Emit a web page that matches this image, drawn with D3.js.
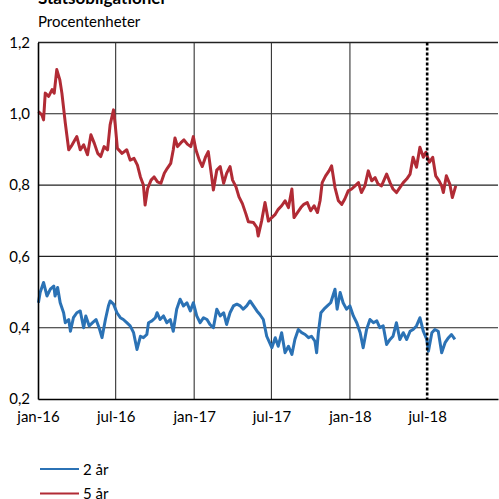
<!DOCTYPE html>
<html><head><meta charset="utf-8">
<script src="https://cdn.jsdelivr.net/npm/d3@7"></script>
<style>body{margin:0;background:#fff}svg{display:block}text{font-family:Lato,"Open Sans",sans-serif;fill:#000}</style>
</head><body><svg id="c" width="499" height="499"></svg>
<script>
const title = "Statsobligationer";
const unit = "Procentenheter";
const seriesNames = ["2 år", "5 år"];
const seriesColors = ["#2b72b5", "#b12b35"];
const yTicks = [0.2, 0.4, 0.6, 0.8, 1.0, 1.2];
const xTickDates = ["2016-01-01","2016-07-01","2017-01-01","2017-07-01","2018-01-01","2018-07-01"];
const xTickLabels = ["jan-16","jul-16","jan-17","jul-17","jan-18","jul-18"];
const markerDate = "2018-07-01";
const startDate = "2016-01-01";
const endDate = "2018-12-14";

// day offsets from 2016-01-01 and values
const days2 = [1,5,13,21,29,37,40,46,52,60,64,72,76,83,91,99,107,112,120,128,136,144,150,158,165,169,177,185,193,200,208,216,224,232,240,247,255,259,267,275,279,286,294,302,310,317,325,333,341,349,357,364,372,380,388,396,403,411,419,427,435,442,450,458,466,474,481,489,497,505,513,520,528,536,548,556,563,571,579,587,595,602,610,618,626,634,641,649,653,657,663,670,678,686,696,701,708,715,723,731,739,747,755,762,770,778,786,794,801,809,817,825,832,840,848,856,864,872,879,887,895,903,911,915,923,930,938,946,954,962,969,977];
const vals2 = [0.470,0.499,0.527,0.489,0.508,0.517,0.489,0.513,0.470,0.442,0.414,0.423,0.390,0.428,0.442,0.447,0.400,0.433,0.405,0.414,0.423,0.397,0.372,0.423,0.461,0.475,0.466,0.442,0.428,0.423,0.414,0.405,0.386,0.339,0.376,0.372,0.381,0.414,0.419,0.428,0.442,0.423,0.433,0.414,0.423,0.390,0.452,0.480,0.461,0.470,0.447,0.470,0.433,0.414,0.428,0.423,0.409,0.400,0.452,0.433,0.442,0.409,0.442,0.461,0.466,0.461,0.452,0.461,0.475,0.461,0.447,0.437,0.423,0.376,0.344,0.372,0.348,0.386,0.330,0.348,0.325,0.367,0.395,0.386,0.381,0.372,0.376,0.362,0.330,0.386,0.442,0.452,0.461,0.470,0.508,0.452,0.499,0.470,0.452,0.461,0.433,0.414,0.386,0.344,0.395,0.423,0.414,0.419,0.400,0.405,0.353,0.367,0.376,0.414,0.367,0.386,0.367,0.390,0.395,0.405,0.428,0.390,0.367,0.334,0.386,0.395,0.390,0.330,0.358,0.372,0.381,0.367];

const days5 = [1,9,13,17,25,33,38,44,51,56,64,72,80,91,99,107,116,124,132,140,147,155,163,169,177,181,186,197,208,216,225,233,240,247,251,257,265,272,280,288,296,303,311,317,321,327,335,342,350,358,364,370,378,385,393,399,407,411,419,427,435,442,450,456,464,471,479,487,493,505,513,516,524,532,540,548,556,563,571,579,587,595,600,608,616,623,631,639,647,655,661,666,674,682,688,696,704,712,719,727,735,743,751,758,766,774,782,790,797,805,817,825,832,840,848,856,864,872,879,887,895,903,909,917,925,932,940,946,950,957,965,971,979];
const vals5 = [1.006,0.997,0.983,1.058,1.049,1.068,1.058,1.124,1.096,1.058,0.974,0.899,0.913,0.936,0.899,0.913,0.885,0.941,0.917,0.889,0.880,0.908,0.899,0.969,1.011,0.969,0.903,0.889,0.899,0.870,0.875,0.856,0.823,0.800,0.744,0.791,0.814,0.823,0.809,0.805,0.833,0.847,0.861,0.899,0.932,0.908,0.919,0.927,0.915,0.908,0.936,0.899,0.870,0.852,0.880,0.894,0.823,0.786,0.842,0.852,0.805,0.833,0.852,0.814,0.795,0.767,0.748,0.720,0.697,0.695,0.681,0.657,0.699,0.751,0.699,0.709,0.718,0.732,0.742,0.756,0.737,0.789,0.709,0.723,0.737,0.746,0.751,0.728,0.742,0.723,0.756,0.807,0.826,0.840,0.854,0.793,0.756,0.746,0.761,0.784,0.789,0.798,0.807,0.779,0.798,0.840,0.812,0.821,0.803,0.798,0.831,0.807,0.789,0.779,0.793,0.807,0.817,0.831,0.878,0.850,0.906,0.878,0.892,0.864,0.878,0.826,0.812,0.798,0.779,0.826,0.803,0.765,0.798];

const svg = d3.select("#c");
const parse = d3.timeParse("%Y-%m-%d");
const t0 = parse(startDate);
const m = {left: 38, right: 498, top: 42.5, bottom: 399};

const x = d3.scaleTime().domain([t0, parse(endDate)]).range([m.left, m.right]);
const y = d3.scaleLinear().domain([0.2, 1.2]).range([m.bottom, m.top]);
const fmt = d => d3.format(".1f")(d).replace(".", ",");

// titles
svg.append("text").attr("x", 38).attr("y", 4).attr("font-size", 17).attr("font-weight", "bold").text(title);
svg.append("text").attr("x", 38).attr("y", 27).attr("font-size", 15).text(unit);

// horizontal gridlines
const g = svg.append("g");
g.selectAll("line.h").data(yTicks.slice(1, -1)).join("line")
  .attr("x1", m.left).attr("x2", m.right).attr("y1", d => y(d)).attr("y2", d => y(d))
  .attr("stroke", "#222").attr("stroke-width", 1.1);
// top border
g.append("line").attr("x1", m.left).attr("x2", m.right).attr("y1", y(1.2)).attr("y2", y(1.2))
  .attr("stroke", "#222").attr("stroke-width", 1.3);

// vertical gridlines
const vDates = xTickDates.map(parse).filter(d => +d !== +t0 && +d !== +parse(markerDate));
g.selectAll("line.v").data(vDates).join("line")
  .attr("x1", d => x(d)).attr("x2", d => x(d)).attr("y1", m.top).attr("y2", m.bottom)
  .attr("stroke", "#333").attr("stroke-width", 1.1);

// lines
const line = d3.line().x(d => x(d[0])).y(d => y(d[1]));
const mk = (days, vals) => days.map((d, i) => [d3.timeDay.offset(t0, d), vals[i]]);
const data2 = mk(days2, vals2), data5 = mk(days5, vals5);
svg.append("path").datum(data2).attr("d", line).attr("fill", "none")
  .attr("stroke", seriesColors[0]).attr("stroke-width", 3).attr("stroke-linejoin", "round");
svg.append("path").datum(data5).attr("d", line).attr("fill", "none")
  .attr("stroke", seriesColors[1]).attr("stroke-width", 3).attr("stroke-linejoin", "round");

// marker dotted line
const md = parse(markerDate);
svg.append("line").attr("x1", x(md)).attr("x2", x(md)).attr("y1", m.top).attr("y2", m.bottom)
  .attr("stroke", "#000").attr("stroke-width", 2.6).attr("stroke-dasharray", "3,2");

// axes
const yAxis = d3.axisLeft(y).tickValues(yTicks).tickSize(0).tickPadding(8).tickFormat(fmt);
const ya = svg.append("g").attr("transform", `translate(${m.left},0)`).call(yAxis);
ya.select(".domain").attr("stroke", "#000").attr("stroke-width", 1.6);
ya.selectAll("text").attr("font-size", 15).attr("font-family", "Lato, sans-serif").attr("fill", "#000");

const xAxis = d3.axisBottom(x).tickValues(xTickDates.map(parse)).tickSize(0).tickPadding(12)
  .tickFormat((d, i) => xTickLabels[i]);
const xa = svg.append("g").attr("transform", `translate(0,${m.bottom})`).call(xAxis);
xa.select(".domain").attr("stroke", "#000").attr("stroke-width", 1.6);
xa.selectAll("text").attr("font-size", 15).attr("font-family", "Lato, sans-serif").attr("fill", "#000");

// legend
const lg = svg.append("g");
seriesNames.forEach((n, i) => {
  const yy = 469 + i * 24.5;
  lg.append("line").attr("x1", 40).attr("x2", 79).attr("y1", yy).attr("y2", yy)
    .attr("stroke", seriesColors[i]).attr("stroke-width", 2.2);
  lg.append("text").attr("x", 83).attr("y", yy + 5.5).attr("font-size", 15).text(n);
});
</script></body></html>
